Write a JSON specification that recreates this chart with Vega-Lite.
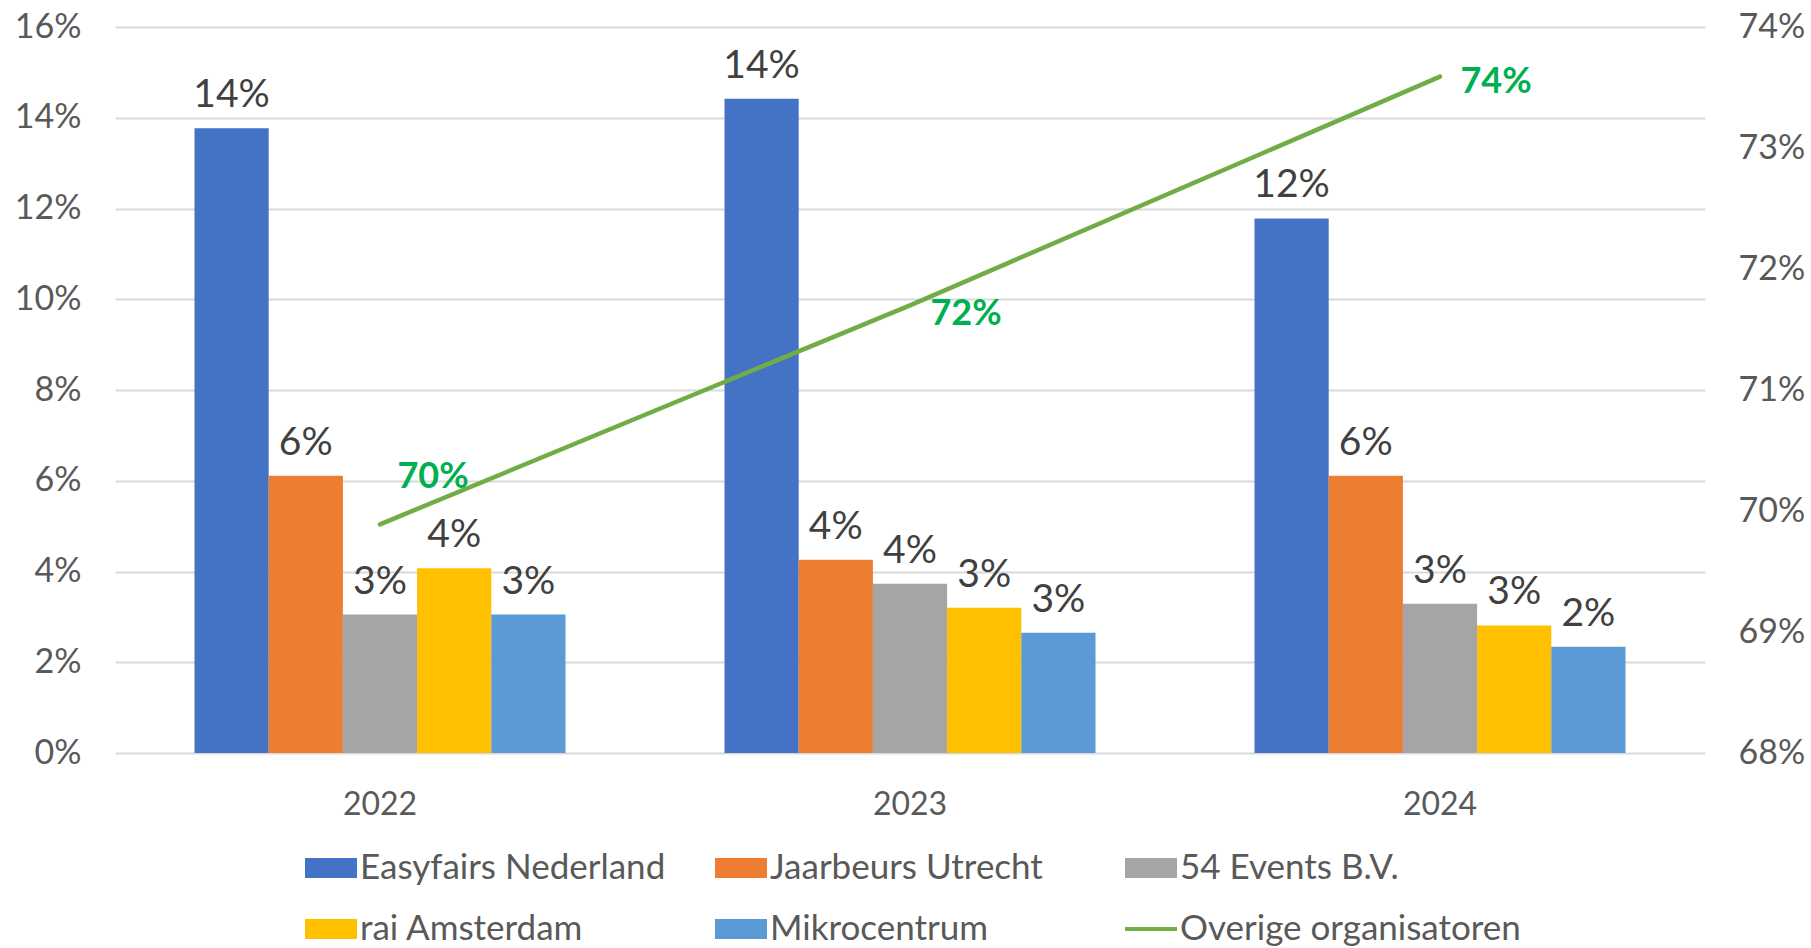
{
  "$schema": "https://vega.github.io/schema/vega-lite/v6.json",
  "width": 1590,
  "height": 726,
  "autosize": {"type": "none"},
  "padding": {"left": 115, "top": 27, "right": 106, "bottom": 195},
  "background": "#ffffff",
  "config": {
    "view": {"stroke": null},
    "font": "Lato",
    "axis": {"labelFont": "Lato", "labelColor": "#595959", "title": null}
  },
  "data": {
    "values": [
      {"year": "2022", "series": "Easyfairs Nederland", "value": 0.1377},
      {"year": "2022", "series": "Jaarbeurs Utrecht", "value": 0.0611},
      {"year": "2022", "series": "54 Events B.V.", "value": 0.0305},
      {"year": "2022", "series": "rai Amsterdam", "value": 0.0407},
      {"year": "2022", "series": "Mikrocentrum", "value": 0.0305},
      {"year": "2022", "series": "Overige organisatoren", "value": 0.6989},
      {"year": "2023", "series": "Easyfairs Nederland", "value": 0.1442},
      {"year": "2023", "series": "Jaarbeurs Utrecht", "value": 0.0426},
      {"year": "2023", "series": "54 Events B.V.", "value": 0.0373},
      {"year": "2023", "series": "rai Amsterdam", "value": 0.032},
      {"year": "2023", "series": "Mikrocentrum", "value": 0.0265},
      {"year": "2023", "series": "Overige organisatoren", "value": 0.717},
      {"year": "2024", "series": "Easyfairs Nederland", "value": 0.1178},
      {"year": "2024", "series": "Jaarbeurs Utrecht", "value": 0.0611},
      {"year": "2024", "series": "54 Events B.V.", "value": 0.0329},
      {"year": "2024", "series": "rai Amsterdam", "value": 0.0281},
      {"year": "2024", "series": "Mikrocentrum", "value": 0.0234},
      {"year": "2024", "series": "Overige organisatoren", "value": 0.7359}
    ]
  },
  "encoding": {
    "x": {
      "field": "year",
      "type": "nominal",
      "scale": {"paddingInner": 0.3, "paddingOuter": 0.15},
      "axis": {
        "labelAngle": 0,
        "labelFontSize": 32,
        "labelPadding": 36,
        "ticks": false,
        "domain": false,
        "grid": false
      }
    }
  },
  "layer": [
    {
      "mark": {"type": "point", "filled": true, "opacity": 0},
      "encoding": {
        "y": {"field": "value", "type": "quantitative", "axis": null, "scale": {"domain": [0, 1]}},
        "color": {
          "field": "series",
          "type": "nominal",
          "scale": {
            "domain": ["Easyfairs Nederland", "Jaarbeurs Utrecht", "54 Events B.V.", "rai Amsterdam", "Mikrocentrum", "Overige organisatoren"],
            "range": ["#4472C4", "#ED7D31", "#A5A5A5", "#FFC000", "#5B9BD5", "#70AD47"]
          },
          "legend": {
            "title": null,
            "orient": "none",
            "direction": "horizontal",
            "legendX": 190,
            "legendY": 815,
            "columns": 3,
            "gridAlign": "all",
            "columnPadding": 14,
            "rowPadding": 17,
            "padding": 0,
            "symbolSize": 2704,
            "symbolStrokeWidth": 0,
            "symbolOpacity": 1,
            "labelOffset": 3,
            "labelFont": "Lato",
            "labelFontSize": 35,
            "labelColor": "#595959",
            "labelLimit": 600
          }
        },
        "shape": {
          "field": "series",
          "type": "nominal",
          "scale": {
            "domain": ["Easyfairs Nederland", "Jaarbeurs Utrecht", "54 Events B.V.", "rai Amsterdam", "Mikrocentrum", "Overige organisatoren"],
            "range": ["M-1,-0.385H1V0.385H-1Z", "M-1,-0.385H1V0.385H-1Z", "M-1,-0.385H1V0.385H-1Z", "M-1,-0.385H1V0.385H-1Z", "M-1,-0.385H1V0.385H-1Z", "M-1,-0.075H1V0.075H-1Z"]
          },
          "legend": {
            "title": null,
            "orient": "none",
            "direction": "horizontal",
            "legendX": 190,
            "legendY": 815,
            "columns": 3,
            "gridAlign": "all",
            "columnPadding": 14,
            "rowPadding": 17,
            "padding": 0,
            "symbolSize": 2704,
            "symbolStrokeWidth": 0,
            "symbolOpacity": 1,
            "labelOffset": 3,
            "labelFont": "Lato",
            "labelFontSize": 35,
            "labelColor": "#595959",
            "labelLimit": 600
          }
        }
      }
    },
    {
      "transform": [{"filter": "datum.series !== 'Overige organisatoren'"}],
      "encoding": {
        "xOffset": {
          "field": "series",
          "type": "nominal",
          "sort": ["Easyfairs Nederland", "Jaarbeurs Utrecht", "54 Events B.V.", "rai Amsterdam", "Mikrocentrum"],
          "scale": {"paddingInner": 0, "paddingOuter": 0}
        },
        "y": {
          "field": "value",
          "type": "quantitative",
          "scale": {"domain": [0, 0.16]},
          "axis": {
            "orient": "left",
            "format": ".0%",
            "values": [0, 0.02, 0.04, 0.06, 0.08, 0.1, 0.12, 0.14, 0.16],
            "labelFontSize": 34,
            "labelPadding": 34,
            "ticks": false,
            "domain": false,
            "grid": true,
            "gridColor": "#D9D9D9",
            "gridWidth": 2
          }
        }
      },
      "layer": [
        {
          "mark": {"type": "bar"},
          "encoding": {
            "color": {"field": "series", "type": "nominal", "legend": null}
          }
        },
        {
          "mark": {"type": "text", "baseline": "alphabetic", "dy": -21, "fontSize": 39, "color": "#404040", "font": "Lato"},
          "encoding": {
            "text": {"field": "value", "type": "quantitative", "format": ".0%"}
          }
        }
      ]
    },
    {
      "transform": [{"filter": "datum.series === 'Overige organisatoren'"}],
      "encoding": {
        "y": {
          "field": "value",
          "type": "quantitative",
          "scale": {"domain": [0.68, 0.74]},
          "axis": {
            "orient": "right",
            "format": ".0%",
            "values": [0.68, 0.69, 0.7, 0.71, 0.72, 0.73, 0.74],
            "labelFontSize": 34,
            "labelPadding": 33,
            "ticks": false,
            "domain": false,
            "grid": false
          }
        }
      },
      "layer": [
        {
          "mark": {"type": "line", "strokeWidth": 4.5, "strokeCap": "round"},
          "encoding": {
            "color": {"field": "series", "type": "nominal", "legend": null}
          }
        },
        {
          "transform": [{"filter": "datum.year === '2022'"}],
          "mark": {"type": "text", "baseline": "middle", "dx": 53, "dy": -47, "fontSize": 36, "fontWeight": "bold", "color": "#00B050", "font": "Lato"},
          "encoding": {"text": {"field": "value", "type": "quantitative", "format": ".0%"}}
        },
        {
          "transform": [{"filter": "datum.year === '2023'"}],
          "mark": {"type": "text", "baseline": "middle", "dx": 56, "dy": 9, "fontSize": 36, "fontWeight": "bold", "color": "#00B050", "font": "Lato"},
          "encoding": {"text": {"field": "value", "type": "quantitative", "format": ".0%"}}
        },
        {
          "transform": [{"filter": "datum.year === '2024'"}],
          "mark": {"type": "text", "baseline": "middle", "dx": 56, "dy": 5, "fontSize": 36, "fontWeight": "bold", "color": "#00B050", "font": "Lato"},
          "encoding": {"text": {"field": "value", "type": "quantitative", "format": ".0%"}}
        }
      ]
    }
  ],
  "resolve": {
    "scale": {"y": "independent"},
    "legend": {"color": "independent", "shape": "independent"}
  }
}
